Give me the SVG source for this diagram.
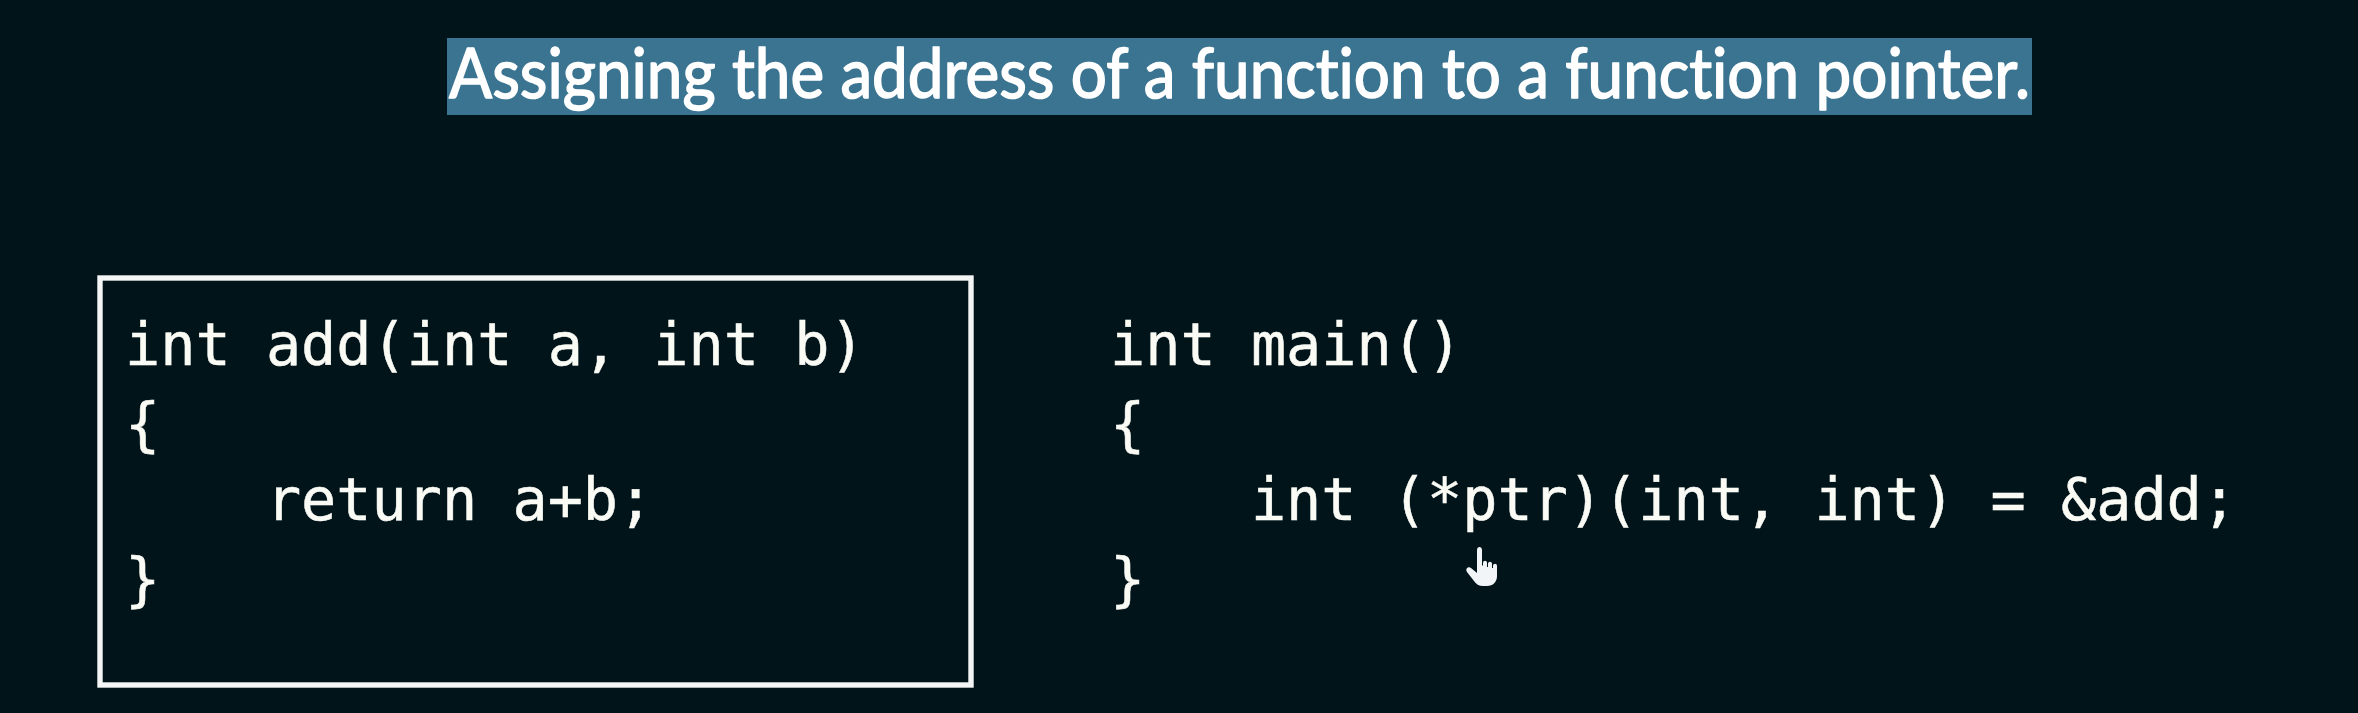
<svg xmlns="http://www.w3.org/2000/svg" width="2358" height="713" viewBox="0 0 2358 713">
<style>
.code{font-family:"DejaVu Sans Mono","Liberation Mono",monospace;font-size:58.5px;fill:#fbfbf6;stroke:#fbfbf6;stroke-width:.5px;white-space:pre}
.title{font-family:"Lato","Open Sans",sans-serif;font-size:70px;font-weight:400;fill:#ffffff;stroke:#ffffff;stroke-width:1.6px;stroke-linejoin:round;font-variant-ligatures:none}
</style>
<rect width="2358" height="713" fill="#01141a"/>
<g id="title">
<rect x="447" y="38" width="1585" height="77" fill="#3b7491"/>
<text class="title" x="449" y="98" textLength="1581" lengthAdjust="spacingAndGlyphs">Assigning the address of a function to a function pointer.</text>
</g>
<g id="add-box">
<rect x="100" y="278" width="871" height="407" fill="none" stroke="#f4f6f6" stroke-width="5.4"/>
<text class="code" x="125" y="365">int add(int a, int b)</text>
<text class="code" x="125" y="445">{</text>
<text class="code" x="125" y="520">    return a+b;</text>
<text class="code" x="125" y="600">}</text>
</g>
<g id="main-code">
<text class="code" x="1110" y="365">int main()</text>
<text class="code" x="1110" y="445">{</text>
<text class="code" x="1110" y="520">    int (*ptr)(int, int) = &amp;add;</text>
<text class="code" x="1110" y="600">}</text>
</g>
<g id="cursor">
<path d="M1477 550c0-4 5-4 5 0v15l1 1v-3c0-3 4-3 4 0v4l1 0v-3c0-3 4-3 4 0v4l1 0v-2c0-3 4-3 4 0v10c0 6-4 10-10 10h-4c-4 0-7-2-9-5l-7-9c-2-3 1-6 4-4l6 5z" fill="#f2f5f8"/>
</g>
</svg>
